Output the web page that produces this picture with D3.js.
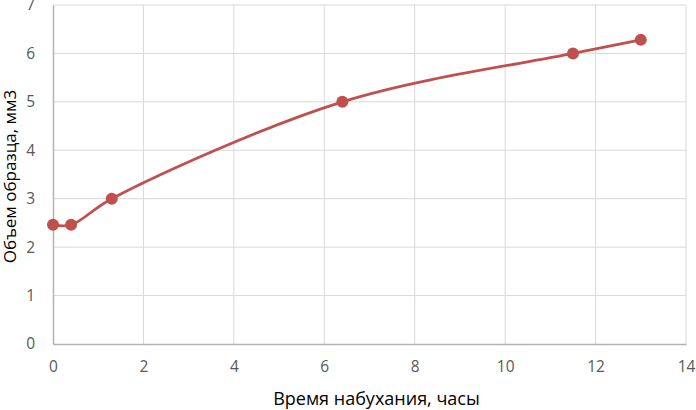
<!DOCTYPE html>
<html>
<head>
<meta charset="utf-8">
<script src="https://cdn.jsdelivr.net/npm/d3@7"></script>
<style>
  body { margin: 0; background: #fff; }
  svg { display: block; font-family: "Open Sans", "Noto Sans", sans-serif; }
</style>
</head>
<body>
<svg id="chart"></svg>
<script>
const width = 696;
const height = 410;
const margin = {top: 5, right: 10, bottom: 66, left: 53};

// swelling time, hours
const hours = [0, 0.4, 1.3, 6.4, 11.5, 13];
// sample volume, mm3
const volume = [2.46, 2.46, 3.0, 5.0, 6.0, 6.28];
const xTicks = [0, 2, 4, 6, 8, 10, 12, 14];
const yTicks = [0, 1, 2, 3, 4, 5, 6, 7];

const xTitle = 'Время набухания, часы';
const yTitle = 'Объем образца, мм3';

const points = hours.map((h, i) => ({x: h, y: volume[i]}));

const svg = d3.select('#chart')
    .attr('width', width)
    .attr('height', height);

const x = d3.scaleLinear().domain([0, 14]).range([margin.left, width - margin.right]);
const y = d3.scaleLinear().domain([0, 7]).range([height - margin.bottom, margin.top]);

// grid
svg.append('g')
    .selectAll('line.v')
    .data(xTicks.slice(1))
    .enter().append('line')
    .attr('x1', d => x(d)).attr('x2', d => x(d))
    .attr('y1', y(0)).attr('y2', y(7))
    .attr('stroke', '#d9d9d9').attr('stroke-width', 1);

svg.append('g')
    .selectAll('line.h')
    .data(yTicks.slice(1))
    .enter().append('line')
    .attr('x1', x(0)).attr('x2', x(14))
    .attr('y1', d => y(d)).attr('y2', d => y(d))
    .attr('stroke', '#d9d9d9').attr('stroke-width', 1);

// axes
const xAxis = svg.append('g')
    .attr('transform', `translate(0, ${y(0)})`)
    .call(d3.axisBottom(x).tickValues(xTicks).tickFormat(d3.format('d')).tickSize(0).tickPadding(17));
const yAxis = svg.append('g')
    .attr('transform', `translate(${x(0)}, 0)`)
    .call(d3.axisLeft(y).tickValues(yTicks).tickFormat(d3.format('d')).tickSize(0).tickPadding(18));

[xAxis, yAxis].forEach(a => {
    a.select('.domain').attr('stroke', '#b3b3b3').attr('stroke-width', 1.5);
    a.selectAll('text')
        .attr('fill', '#595959')
        .style('font-size', '15.5px')
        .style('font-family', '"Open Sans", "Noto Sans", sans-serif');
});

// axis titles
svg.append('text')
    .attr('x', (x(0) + x(14)) / 2 + 7)
    .attr('y', 405)
    .attr('text-anchor', 'middle')
    .attr('fill', '#000')
    .style('font-size', '18px')
    .text(xTitle);

svg.append('text')
    .attr('transform', `translate(16, ${(y(0) + y(7)) / 2 + 2}) rotate(-90)`)
    .attr('text-anchor', 'middle')
    .attr('fill', '#000')
    .style('font-size', '17px')
    .text(yTitle);

// smoothed line
const line = d3.line()
    .x(d => x(d.x))
    .y(d => y(d.y))
    .curve(d3.curveCatmullRom.alpha(0.5));

svg.append('path')
    .datum(points)
    .attr('fill', 'none')
    .attr('stroke', '#c0504d')
    .attr('stroke-width', 2.75)
    .attr('d', line);

svg.append('g')
    .selectAll('circle')
    .data(points)
    .enter().append('circle')
    .attr('cx', d => x(d.x))
    .attr('cy', d => y(d.y))
    .attr('r', 6)
    .attr('fill', '#c0504d');
</script>
</body>
</html>
